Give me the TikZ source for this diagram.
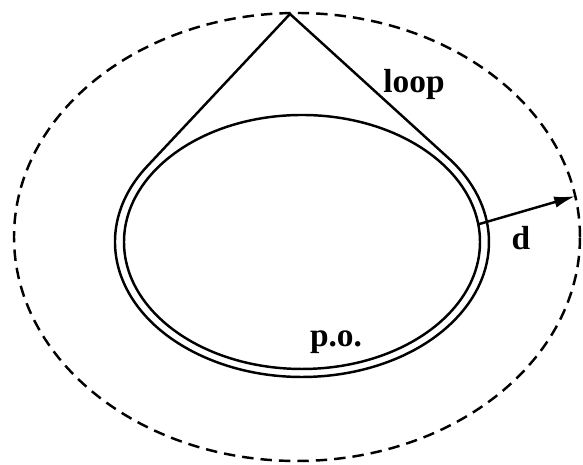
\documentclass[tikz,border=0pt]{standalone}
\usepackage{fontspec}
\setmainfont{Liberation Serif}
\usetikzlibrary{arrows.meta,calc}
\tikzset{
  orbit/.style={line width=1.4pt},
  border/.style={line width=1.4pt,dash pattern=on 6.5pt off 4pt},
  lbl/.style={font=\fontsize{19}{22}\selectfont\bfseries,inner sep=0pt,anchor=base},
  >={Latex[length=12pt,width=6.5pt]},
}

\begin{document}
\begin{tikzpicture}[x=0.02cm,y=0.02cm]
  \useasboundingbox (0,0) rectangle (583,465);
  \coordinate (c)    at (297,228);
  \coordinate (po)   at (302,223);
  \coordinate (apex) at (290,451);
  % dashed neighbourhood
  \draw[border] (c) ellipse[x radius=283,y radius=224];
  % periodic orbit
  \draw[orbit] (po) ellipse[x radius=178,y radius=127];
  % homoclinic loop
  \draw[orbit] (apex) -- ($(po)+(145.9:187 and 135)$)
    arc[start angle=145.9,end angle=398.5,x radius=187,y radius=135] -- cycle;
  % distance
  \coordinate (dstart) at ($(po)+(8:178 and 127)$);
  \coordinate (dend)   at ($(c)+(10.5:283 and 224)$);
  \draw[->,line width=1.4pt] (dstart) -- (dend);
  \node[lbl] (loop) at (414,372) {loop};
  \node[lbl] (d)    at (521,215) {d};
  \node[lbl] (pol)  at (336,118) {p.o.};
\end{tikzpicture}
\end{document}
